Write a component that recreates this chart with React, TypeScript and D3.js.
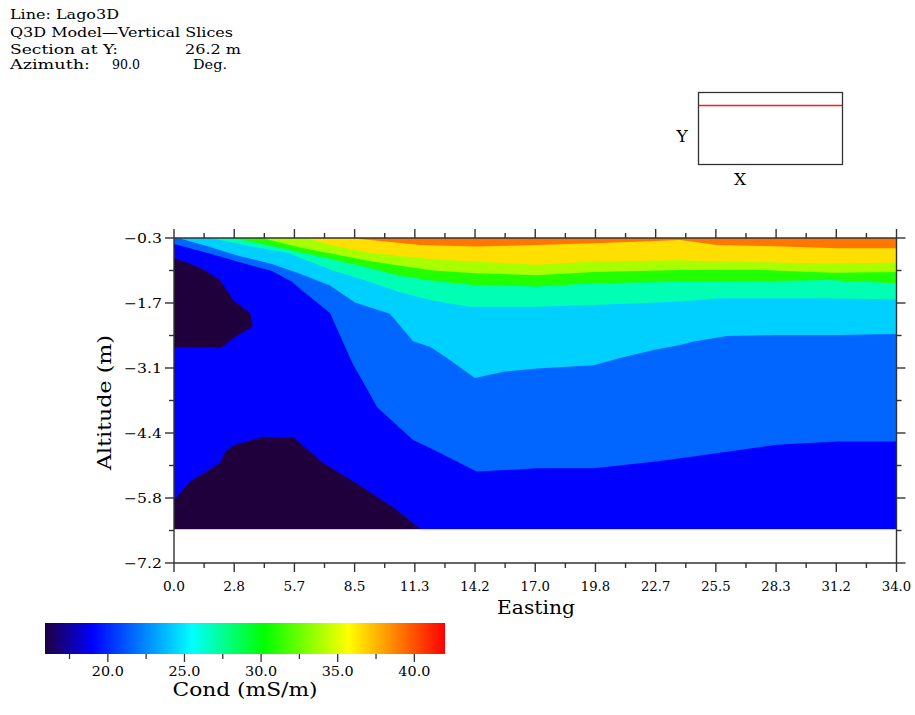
import React from 'react';
import * as d3 from 'd3';

// ---------- data ----------
const headerLine1 = 'Line: Lago3D';
const headerLine2 = 'Q3D Model\u2014Vertical Slices';
const headerLine3 = ['Section at Y:', '26.2 m'];
const headerLine4 = ['Azimuth:', '90.0', 'Deg.'];

const xTickLabels = ['0.0', '2.8', '5.7', '8.5', '11.3', '14.2', '17.0', '19.8', '22.7', '25.5', '28.3', '31.2', '34.0'];
const yTickLabels = ['\u22120.3', '\u22121.7', '\u22123.1', '\u22124.4', '\u22125.8', '\u22127.2'];
const cbTickValues = [20, 25, 30, 35, 40];
const cbTickLabels = ['20.0', '25.0', '30.0', '35.0', '40.0'];

const xDomain: [number, number] = [0, 34];
const yDomain: [number, number] = [-0.3, -7.2];
const dataBottom = -6.48;

// colour bar (rainbow) stops
const cbStopValues = [15.9, 19.0, 25.5, 30.2, 35.7, 42.0];
const cbStopColors = ['#200040', '#0000ff', '#00ffff', '#00ff00', '#ffff00', '#ff0000'];

// band colours
const colPurple = '#20003c';
const colBlue = '#0000ff';
const colMed = '#0066ff';
const colSky = '#00d0ff';
const colAqua = '#00ffb4';
const colGreen = '#22ff00';
const colYG = '#a8ff00';
const colYellow = '#ffdf00';
const colOrange = '#ff7700';

// band boundaries [easting, altitude]; colour is the band above the boundary
const bMedBlue: [number, number][] = [
  [0, -0.43], [1.46, -0.6], [3.06, -0.81], [4.61, -1.0], [5.55, -1.23], [5.93, -1.38], [7.34, -1.89],
  [8.42, -2.98], [9.22, -3.61], [9.55, -3.89], [11.25, -4.59], [12.05, -4.76], [14.24, -5.26],
  [17.07, -5.19], [19.73, -5.19], [22.56, -5.05], [24.44, -4.94], [26.01, -4.84], [28.36, -4.69],
  [31.19, -4.62], [34, -4.62],
];
const bSkyMed: [number, number][] = [
  [0.19, -0.3], [1.46, -0.46], [3.06, -0.68], [4.61, -0.85], [5.93, -1.06], [7.34, -1.31], [8.52, -1.67],
  [10.16, -1.91], [11.25, -2.49], [12.05, -2.61], [12.85, -2.85], [14.16, -3.27], [15.5, -3.14],
  [17.07, -3.07], [19.73, -3.0], [20.99, -2.85], [22.56, -2.68], [23.81, -2.57], [24.44, -2.5],
  [26.01, -2.38], [28.36, -2.36], [31.19, -2.36], [34, -2.34],
];
const bAquaSky: [number, number][] = [
  [1.69, -0.3], [3.81, -0.49], [5.41, -0.62], [5.93, -0.72], [7.48, -0.99], [9.07, -1.21], [10.64, -1.45],
  [12.2, -1.63], [13.93, -1.76], [17.07, -1.76], [19.73, -1.72], [23.81, -1.65], [25.69, -1.58],
  [29.93, -1.58], [34, -1.6],
];
const bGreenAqua: [number, number][] = [
  [2.78, -0.3], [4.61, -0.47], [5.93, -0.6], [7.34, -0.74], [9.07, -0.92], [10.64, -1.1], [12.2, -1.21],
  [14.08, -1.3], [17.07, -1.33], [19.73, -1.26], [23.81, -1.23], [26.01, -1.23], [30.71, -1.19], [34, -1.26],
];
const bYGGreen: [number, number][] = [
  [4.14, -0.3], [5.93, -0.5], [7.5, -0.64], [9.07, -0.78], [10.64, -0.89], [12.2, -0.99], [14.24, -1.05],
  [17.07, -1.09], [19.73, -1.02], [23.81, -0.98], [27.58, -0.98], [31.03, -1.04], [34, -1.02],
];
const bYellowYG: [number, number][] = [
  [6.16, -0.3], [7.5, -0.46], [9.07, -0.6], [10.64, -0.68], [12.2, -0.75], [14.24, -0.8], [17.07, -0.87],
  [19.73, -0.8], [23.81, -0.77], [26.01, -0.8], [31.03, -0.84], [34, -0.82],
];
const bOrangeYellow: [number, number][] = [
  [8.28, -0.3], [11.58, -0.45], [14.24, -0.48], [17.07, -0.45], [19.73, -0.41], [21.77, -0.38],
  [23.81, -0.34], [24.44, -0.38], [25.54, -0.45], [28.67, -0.48], [31.19, -0.52], [34, -0.52],
];

const purpleUpper: [number, number][] = [
  [0, -0.73], [0.75, -0.84], [1.46, -0.99], [2.16, -1.19], [2.79, -1.62], [3.58, -1.9], [3.7, -2.18],
  [2.87, -2.4], [2.24, -2.62], [0, -2.62],
];
const purpleLower: [number, number][] = [
  [0, -5.86], [0.75, -5.47], [2.16, -5.08], [2.4, -4.84], [2.87, -4.69], [4.13, -4.53], [5.61, -4.53],
  [7.03, -5.08], [8.6, -5.51], [10.48, -6.07], [11.58, -6.48], [0, -6.48],
];

const bands: { boundary: [number, number][]; color: string }[] = [
  { boundary: bMedBlue, color: colMed },
  { boundary: bSkyMed, color: colSky },
  { boundary: bAquaSky, color: colAqua },
  { boundary: bGreenAqua, color: colGreen },
  { boundary: bYGGreen, color: colYG },
  { boundary: bYellowYG, color: colYellow },
  { boundary: bOrangeYellow, color: colOrange },
];

const FONT = "'DejaVu Serif', serif";

function T(props: any) {
  const { len, children, ...rest } = props;
  return (
    <text {...rest} textLength={len} lengthAdjust="spacingAndGlyphs">{children}</text>
  );
}

export default function App() {
  const x = d3.scaleLinear().domain(xDomain).range([174, 896.5]);
  const y = d3.scaleLinear().domain(yDomain).range([238, 563]);
  const cb = d3.scaleLinear().domain([cbStopValues[0], cbStopValues[cbStopValues.length - 1]]).range([45, 445]);

  const line = d3.line<[number, number]>().x((d) => x(d[0])).y((d) => y(d[1]));
  const top = yDomain[0];

  const bandPath = (b: [number, number][]) => {
    const pts: [number, number][] = [[b[0][0], top], ...b, [xDomain[1], top]];
    return line(pts) + 'Z';
  };

  const xMajor = d3.range(13).map((i) => (xDomain[1] * i) / 12);
  const xMinor = d3.range(12).map((i) => (xDomain[1] * (i + 0.5)) / 12);
  const yStep = (yDomain[0] - yDomain[1]) / 5;
  const yMajor = d3.range(6).map((i) => yDomain[0] - i * yStep);
  const yMinor = d3.range(5).map((i) => yDomain[0] - (i + 0.5) * yStep);
  const cbMinor = [17.5, 22.5, 27.5, 32.5, 37.5];

  const x0 = x(0), x1 = x(34), y0 = y(yDomain[0]), y1 = y(yDomain[1]);
  const axisCol = '#333';

  return (
    <svg width={915} height={715} style={{ position: 'absolute', left: 0, top: 0, background: '#fff' }}>
      <defs>
        <linearGradient id="cbgrad" x1="0" x2="1" y1="0" y2="0">
          {cbStopValues.map((v, i) => (
            <stop key={i} offset={(v - cbStopValues[0]) / (cbStopValues[cbStopValues.length - 1] - cbStopValues[0])} stopColor={cbStopColors[i]} />
          ))}
        </linearGradient>
        <clipPath id="plotclip">
          <rect x={x(0)} y={y(yDomain[0])} width={x(34) - x(0)} height={y(dataBottom) - y(yDomain[0])} />
        </clipPath>
      </defs>
      <rect x={0} y={0} width={915} height={715} fill="#fff" />

      {/* header */}
      <g fontFamily={FONT} fontSize={12.5} fill="#000">
        <T x={10} y={19} len={109}>{headerLine1}</T>
        <T x={10} y={37} len={223}>{headerLine2}</T>
        <T x={10} y={54} len={108}>{headerLine3[0]}</T>
        <T x={185} y={54} len={56}>{headerLine3[1]}</T>
        <T x={10} y={69} len={80}>{headerLine4[0]}</T>
        <T x={112} y={69} len={28}>{headerLine4[1]}</T>
        <T x={193} y={69} len={34}>{headerLine4[2]}</T>
      </g>

      {/* location inset */}
      <rect x={698.5} y={92.5} width={144} height={72} fill="none" stroke="#333" strokeWidth={1.3} />
      <line x1={699} x2={842} y1={105.5} y2={105.5} stroke="#ff1a1a" strokeWidth={1.5} />
      <text x={682} y={142} fontFamily={FONT} fontSize={17} textAnchor="middle">Y</text>
      <text x={740} y={185} fontFamily={FONT} fontSize={17} textAnchor="middle">X</text>

      {/* contour bands */}
      <g clipPath="url(#plotclip)">
        <rect x={x(0)} y={y(yDomain[0])} width={x(34) - x(0)} height={y(dataBottom) - y(yDomain[0])} fill={colBlue} />
        {bands.map((b, i) => (
          <path key={i} d={bandPath(b.boundary)} fill={b.color} />
        ))}
        <path d={line(purpleUpper) + 'Z'} fill={colPurple} />
        <path d={line(purpleLower) + 'Z'} fill={colPurple} />
      </g>
      <line x1={x0} x2={x1} y1={y(dataBottom) + 0.5} y2={y(dataBottom) + 0.5} stroke="#c8c8f4" strokeWidth={1} />

      {/* frame */}
      <g stroke={axisCol} strokeWidth={1.4} fill="none">
        <line x1={x0} x2={x1} y1={y0} y2={y0} />
        <line x1={x0} x2={x1} y1={y1} y2={y1} />
        <line x1={x0} x2={x0} y1={y0} y2={y1} />
        <line x1={x1} x2={x1} y1={y0} y2={y1} />
        {xMajor.map((v, i) => (
          <g key={'xm' + i}>
            <line x1={x(v)} x2={x(v)} y1={y1} y2={y1 + 9} />
            <line x1={x(v)} x2={x(v)} y1={y0} y2={y0 - 9} />
          </g>
        ))}
        {xMinor.map((v, i) => (
          <g key={'xn' + i}>
            <line x1={x(v)} x2={x(v)} y1={y1} y2={y1 + 5} />
            <line x1={x(v)} x2={x(v)} y1={y0} y2={y0 - 5} />
          </g>
        ))}
        {yMajor.map((v, i) => (
          <g key={'ym' + i}>
            <line x1={x0} x2={x0 - 9} y1={y(v)} y2={y(v)} />
            <line x1={x1} x2={x1 + 9} y1={y(v)} y2={y(v)} />
          </g>
        ))}
        {yMinor.map((v, i) => (
          <g key={'yn' + i}>
            <line x1={x0} x2={x0 - 5} y1={y(v)} y2={y(v)} />
            <line x1={x1} x2={x1 + 5} y1={y(v)} y2={y(v)} />
          </g>
        ))}
      </g>

      {/* tick labels */}
      <g fontFamily={FONT} fontSize={13} fill="#000">
        {xMajor.map((v, i) => (
          <T key={'xl' + i} x={x(v)} y={591} textAnchor="middle" len={xTickLabels[i].length * 7.6 - 1}>{xTickLabels[i]}</T>
        ))}
        {yMajor.map((v, i) => (
          <T key={'yl' + i} x={162} y={y(v) + 4.5} textAnchor="end" len={38}>{yTickLabels[i]}</T>
        ))}
      </g>
      <T x={536} y={614} fontFamily={FONT} fontSize={19} textAnchor="middle" len={78}>Easting</T>
      <T transform={`translate(111,${(y0 + y1) / 2 + 2}) rotate(-90)`} fontFamily={FONT} fontSize={18} textAnchor="middle" len={135}>Altitude (m)</T>

      {/* colour bar */}
      <rect x={cb(cbStopValues[0])} y={623} width={cb(cbStopValues[cbStopValues.length - 1]) - cb(cbStopValues[0])} height={31} fill="url(#cbgrad)" />
      <g stroke={axisCol} strokeWidth={1.3}>
        {cbTickValues.map((v, i) => (
          <line key={'cm' + i} x1={cb(v)} x2={cb(v)} y1={654} y2={662} />
        ))}
        {cbMinor.map((v, i) => (
          <line key={'cn' + i} x1={cb(v)} x2={cb(v)} y1={654} y2={659} />
        ))}
      </g>
      <g fontFamily={FONT} fontSize={13} fill="#000">
        {cbTickValues.map((v, i) => (
          <T key={'cl' + i} x={cb(v)} y={676} textAnchor="middle" len={32}>{cbTickLabels[i]}</T>
        ))}
      </g>
      <T x={245} y={696} fontFamily={FONT} fontSize={18} textAnchor="middle" len={145}>Cond (mS/m)</T>
    </svg>
  );
}
